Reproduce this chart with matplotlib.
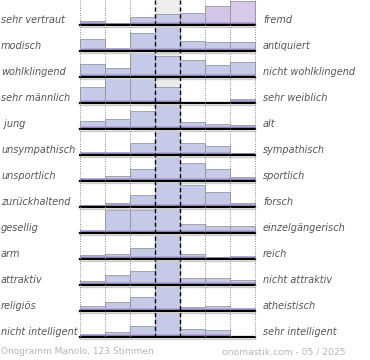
import matplotlib.pyplot as plt

left_labels = ["sehr vertraut", "modisch", "wohlklingend", "sehr männlich", " jung",
               "unsympathisch", "unsportlich", "zurückhaltend", "gesellig", "arm",
               "attraktiv", "religiös", "nicht intelligent"]
right_labels = ["fremd", "antiquiert", "nicht wohlklingend", "sehr weiblich", "alt",
                "sympathisch", "sportlich", "forsch", "einzelgängerisch", "reich",
                "nicht attraktiv", "atheistisch", "sehr intelligent"]

# relative share per scale step (row max = 100)
votes = [
    [18, 10, 32, 45, 51, 79, 100],
    [51, 14, 73, 100, 43, 39, 39],
    [53, 36, 100, 87, 72, 51, 62],
    [66, 100, 100, 66, 6, 6, 16],
    [32, 42, 74, 100, 28, 22, 18],
    [11, 11, 50, 100, 50, 39, 8],
    [11, 20, 50, 100, 75, 50, 15],
    [10, 17, 49, 100, 93, 62, 17],
    [14, 94, 94, 100, 39, 28, 28],
    [18, 22, 46, 100, 21, 7, 11],
    [18, 42, 60, 100, 30, 30, 22],
    [21, 38, 58, 100, 17, 21, 12],
    [12, 21, 46, 100, 35, 28, 0],
]

footer_left = "Onogramm Manolo, 123 Stimmen"
footer_right = "onomastik.com - 05 / 2025"

fig = plt.figure(figsize=(3.7, 3.6), dpi=100)
ax = fig.add_axes([0, 0, 1, 1])
ax.set_xlim(0, 370)
ax.set_ylim(360, 0)
ax.axis("off")

x0 = 80
w = 24.93
row_h = 26
first_base = 25
full = 24

# grey background of the middle column
ax.bar(x0 + 3.5 * w, -338, bottom=338, width=w, color="#ededed", zorder=0)

for i, row in enumerate(votes):
    base = first_base + i * row_h
    xs = [x0 + (k + 0.5) * w for k in range(7)]
    hs = [-v / 100 * full for v in row]
    cols = ["#c5cae9"] * 7
    if i == 0:
        cols = ["#c5cae9", "#c5cae9", "#c5cae9", "#c5cae9", "#cbc5e7", "#d3c5e6", "#dac8e8"]
    ax.bar(xs, hs, bottom=base, width=w, color=cols, edgecolor="#a3a3a3",
           linewidth=0.7, zorder=2)
    strip = [max(h, -3.5) if v > 0 else 0 for h, v in zip(hs, row)]
    ax.bar(xs, strip, bottom=base, width=w, color="#b2a9d6", linewidth=0, zorder=3)
    strip2 = [max(h, -1.6) if v > 0 else 0 for h, v in zip(hs, row)]
    ax.bar(xs, strip2, bottom=base, width=w, color="#9c8fc4", linewidth=0, zorder=3)
    ax.plot([x0, x0 + 7 * w], [base + 1.6, base + 1.6], color="#cccccc", lw=1, zorder=3)
    ax.plot([x0, x0 + 7 * w], [base, base], color="black", lw=1.6, zorder=4)

    ax.text(1, base - 5, left_labels[i], ha="left", va="center", fontsize=7,
            style="italic", color="#555555")
    ax.text(263, base - 5, right_labels[i], ha="left", va="center", fontsize=7,
            style="italic", color="#555555")

# grid lines
for k in range(8):
    xk = x0 + k * w
    if k in (3, 4):
        ax.plot([xk, xk], [0, 338], color="black", lw=1, ls=(0, (3, 2)), zorder=5)
    else:
        ax.plot([xk, xk], [0, 338], color="#888888", lw=0.7, ls=(0, (1, 1.5)), zorder=5)

ax.text(1, 352, footer_left, ha="left", va="center", fontsize=6.5, color="#b5b5b5")
ax.text(346, 352, footer_right, ha="right", va="center", fontsize=6.6, color="#b5b5b5")

plt.savefig("out.png", dpi=100)
